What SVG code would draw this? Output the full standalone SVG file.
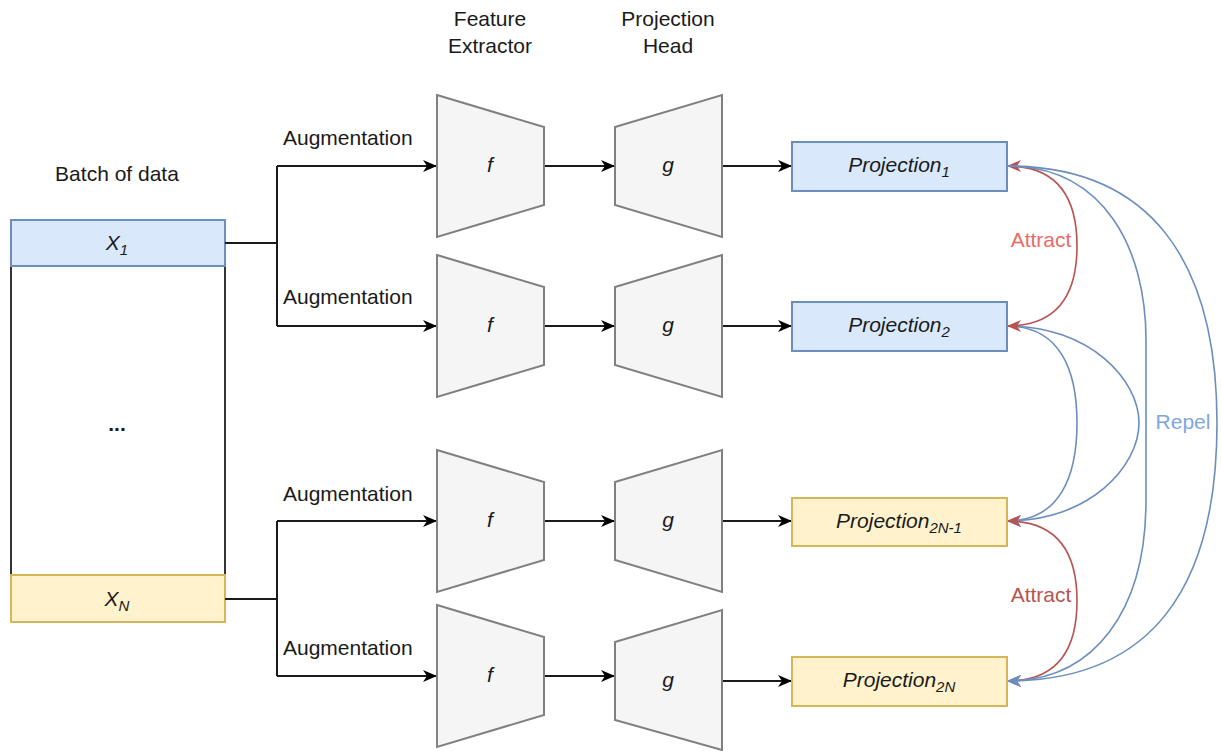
<svg xmlns="http://www.w3.org/2000/svg" width="1222" height="751" viewBox="0 0 1222 751">
<style>
text{font-family:"Liberation Sans",Arial,sans-serif;font-size:21px;fill:#1a1a1a}
.it{font-style:italic}
.mid{text-anchor:middle}
.sub{font-size:15px}
.blue{fill:#dae8fc;stroke:#6c8ebf;stroke-width:2}
.yel{fill:#fff2cc;stroke:#d6b656;stroke-width:2}
.trap{fill:#f5f5f5;stroke:#808080;stroke-width:2}
.wire{fill:none;stroke:#1a1a1a;stroke-width:2}
.arr{marker-end:url(#ab)}
.rc{fill:none;stroke:#b85450;stroke-width:1.6;marker-start:url(#ars);marker-end:url(#ar)}
.bc{fill:none;stroke:#6c8ebf;stroke-width:1.6;marker-end:url(#abl)}
</style>
<defs>
<marker id="ab" viewBox="0 0 14 12" refX="14" refY="6" markerWidth="14" markerHeight="12" markerUnits="userSpaceOnUse" orient="auto"><path d="M0,0 L14,6 L0,12 L4,6 Z" fill="#000"/></marker>
<marker id="ar" viewBox="0 0 14 12" refX="14" refY="6" markerWidth="14" markerHeight="12" markerUnits="userSpaceOnUse" orient="auto"><path d="M0,0 L14,6 L0,12 L4,6 Z" fill="#b85450"/></marker>
<marker id="ars" viewBox="0 0 14 12" refX="14" refY="6" markerWidth="14" markerHeight="12" markerUnits="userSpaceOnUse" orient="auto-start-reverse"><path d="M0,0 L14,6 L0,12 L4,6 Z" fill="#b85450"/></marker>
<marker id="abl" viewBox="0 0 14 12" refX="14" refY="6" markerWidth="14" markerHeight="12" markerUnits="userSpaceOnUse" orient="auto"><path d="M0,0 L14,6 L0,12 L4,6 Z" fill="#6c8ebf"/></marker>
</defs>
<rect width="1222" height="751" fill="#fff"/>

<g id="headers">
<text class="mid" x="490" y="26">Feature</text>
<text class="mid" x="490" y="53">Extractor</text>
<text class="mid" x="668" y="26">Projection</text>
<text class="mid" x="668" y="53">Head</text>
<text class="mid" x="117" y="181">Batch of data</text>
</g>

<g id="batch">
<rect x="11" y="266" width="214" height="309" fill="#fff" stroke="#333" stroke-width="2"/>
<text class="mid" x="117" y="431" font-weight="bold">...</text>
</g>
<g id="x1">
<rect class="blue" x="11" y="220" width="214" height="46"/>
<text class="mid it" x="117" y="250">X<tspan class="sub" dy="5">1</tspan></text>
</g>
<g id="xn">
<rect class="yel" x="11" y="575" width="214" height="47"/>
<text class="mid it" x="117" y="606">X<tspan class="sub" dy="5">N</tspan></text>
</g>

<g id="connectors">
<path class="wire" d="M225,243 H277 M277,166 V326"/>
<path class="wire arr" d="M277,166 H437"/>
<path class="wire arr" d="M277,326 H437"/>
<path class="wire" d="M225,599 H277 M277,521 V676"/>
<path class="wire arr" d="M277,521 H437"/>
<path class="wire arr" d="M277,676 H437"/>
<path class="wire arr" d="M544,166 H615"/>
<path class="wire arr" d="M544,326 H615"/>
<path class="wire arr" d="M544,521 H615"/>
<path class="wire arr" d="M544,676 H615"/>
<path class="wire arr" d="M722,166 H792"/>
<path class="wire arr" d="M722,326 H792"/>
<path class="wire arr" d="M722,521 H792"/>
<path class="wire arr" d="M722,681 H792"/>
<path class="bc" d="M1007,326 C1060,326 1077,370 1077,423 C1077,476 1060,521 1007,521"/>
<path class="bc" d="M1007,326 C1090,326 1139,380 1139,423 C1139,466 1090,521 1007,521"/>
<path class="rc" d="M1007,166 C1060,166 1077,200 1077,246 C1077,292 1060,326 1007,326"/>
<path class="rc" d="M1007,521 C1060,521 1077,555 1077,601 C1077,647 1060,681 1007,681"/>
<path class="bc" d="M1007,166 C1105,166 1146,250 1146,340 L1146,500 C1146,610 1095,681 1007,681"/>
<path class="bc" d="M1007,166 C1150,166 1217,260 1217,423 C1217,590 1150,681 1007,681"/>
<text class="mid" x="1041" y="247" style="fill:#ea6b66">Attract</text>
<text class="mid" x="1041" y="602" style="fill:#b85450">Attract</text>
<text class="mid" x="1183" y="429" style="fill:#7ea6e0">Repel</text>
<text x="283" y="145">Augmentation</text>
<text x="283" y="304">Augmentation</text>
<text x="283" y="501">Augmentation</text>
<text x="283" y="655">Augmentation</text>
</g>

<g id="f1"><path class="trap" d="M437,95 L544,127 L544,205 L437,237 Z"/><text class="mid it" x="490" y="172">f</text></g>
<g id="f2"><path class="trap" d="M437,255 L544,287 L544,365 L437,397 Z"/><text class="mid it" x="490" y="332">f</text></g>
<g id="f3"><path class="trap" d="M437,450 L544,482 L544,560 L437,592 Z"/><text class="mid it" x="490" y="527">f</text></g>
<g id="f4"><path class="trap" d="M437,605 L544,637 L544,715 L437,747 Z"/><text class="mid it" x="490" y="682">f</text></g>

<g id="g1"><path class="trap" d="M615,127 L722,95 L722,237 L615,205 Z"/><text class="mid it" x="668" y="172">g</text></g>
<g id="g2"><path class="trap" d="M615,287 L722,255 L722,397 L615,365 Z"/><text class="mid it" x="668" y="332">g</text></g>
<g id="g3"><path class="trap" d="M615,482 L722,450 L722,592 L615,560 Z"/><text class="mid it" x="668" y="527">g</text></g>
<g id="g4"><path class="trap" d="M615,642 L722,610 L722,750 L615,720 Z"/><text class="mid it" x="668" y="687">g</text></g>

<g id="p1"><rect class="blue" x="792" y="142" width="215" height="49"/><text class="mid it" x="899" y="172">Projection<tspan class="sub" dy="5">1</tspan></text></g>
<g id="p2"><rect class="blue" x="792" y="302" width="215" height="49"/><text class="mid it" x="899" y="332">Projection<tspan class="sub" dy="5">2</tspan></text></g>
<g id="p3"><rect class="yel" x="792" y="498" width="215" height="48"/><text class="mid it" x="899" y="528">Projection<tspan class="sub" dy="5">2N-1</tspan></text></g>
<g id="p4"><rect class="yel" x="792" y="657" width="215" height="49"/><text class="mid it" x="899" y="687">Projection<tspan class="sub" dy="5">2N</tspan></text></g>
</svg>
